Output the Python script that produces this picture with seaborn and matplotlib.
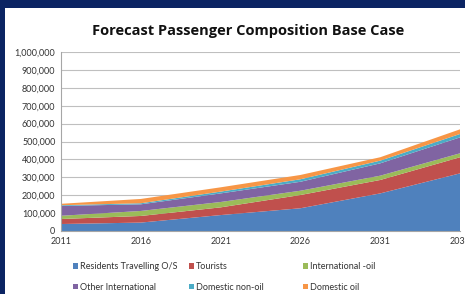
import numpy as np
import pandas as pd
import matplotlib
matplotlib.use("Agg")
import matplotlib.pyplot as plt
from matplotlib.patches import Rectangle, Patch
from matplotlib.ticker import FuncFormatter
import seaborn as sns

# ============================================================================
# DATA (passengers per year)
# ============================================================================
years = [2011, 2016, 2021, 2026, 2031, 2036]
residents_os = [39000, 47000, 89000, 127000, 210000, 322000]
tourists = [28000, 37000, 43000, 74000, 75000, 90000]
international_oil = [18000, 28000, 30000, 24000, 24000, 22000]
other_international = [55000, 37000, 48000, 50000, 69000, 89000]
domestic_non_oil = [4000, 6000, 10000, 14000, 15000, 19000]
domestic_oil = [8000, 24000, 24000, 24000, 19000, 26000]

series_names = ["Residents Travelling O/S", "Tourists", "International -oil",
                "Other International", "Domestic non-oil", "Domestic oil"]
colors = ["#4F81BD", "#C0504D", "#9BBB59", "#8064A2", "#4BACC6", "#F79646"]

df = pd.DataFrame({
    "year": years,
    series_names[0]: residents_os,
    series_names[1]: tourists,
    series_names[2]: international_oil,
    series_names[3]: other_international,
    series_names[4]: domestic_non_oil,
    series_names[5]: domestic_oil,
})

# ============================================================================
# PLOT
# ============================================================================
sns.set_theme(style="whitegrid")
plt.rcParams['font.family'] = ['Lato', 'DejaVu Sans']

fig = plt.figure(figsize=(4.65, 2.94), dpi=100)
fig.patch.set_facecolor("#0B2463")
# white panel inside the navy frame
fig.add_artist(Rectangle((5 / 465, 0), 1, 1 - 8 / 294, transform=fig.transFigure,
                         facecolor="white", edgecolor="none", zorder=0))

ax = fig.add_axes([61 / 465, 63 / 294, 399 / 465, 179 / 294])
ax.set_facecolor("white")
ax.stackplot(df["year"], [df[n] for n in series_names], colors=colors,
             edgecolor="none", zorder=2)

ax.set_xlim(2011, 2036)
ax.set_ylim(0, 1000000)
ax.set_xticks(years)
ax.set_yticks(np.arange(0, 1000001, 100000))
ax.yaxis.set_major_formatter(FuncFormatter(lambda v, p: f"{int(v):,}"))
ax.tick_params(axis="both", labelsize=6.5, colors="#333333", length=0, pad=4)
ax.grid(axis="y", color="#BFBFBF", linewidth=0.8)
ax.grid(axis="x", visible=False)
for side in ["top", "right"]:
    ax.spines[side].set_visible(False)
for side in ["left", "bottom"]:
    ax.spines[side].set_visible(True)
    ax.spines[side].set_color("#A6A6A6")
    ax.spines[side].set_linewidth(0.8)

fig.text(248 / 465, 1 - 31 / 294, "Forecast Passenger Composition Base Case",
         ha="center", va="center", fontsize=10.5, fontweight="bold", color="#111111",
         family=["Open Sans", "DejaVu Sans"])

# legend: three columns of two entries
col_x = [73 / 465, 189 / 465, 303 / 465]
for c in range(3):
    idx = [c, c + 3]
    handles = [Patch(facecolor=colors[i], edgecolor="none") for i in idx]
    leg = fig.legend(handles, [series_names[i] for i in idx],
                     loc="upper left", bbox_to_anchor=(col_x[c], 1 - 262 / 294),
                     frameon=False, fontsize=6.5, handlelength=0.6, handleheight=0.6,
                     handletextpad=0.2, labelspacing=1.3, borderpad=0, borderaxespad=0)
    for t in leg.get_texts():
        t.set_color("#333333")

fig.savefig("out.png", dpi=100, facecolor=fig.get_facecolor())
